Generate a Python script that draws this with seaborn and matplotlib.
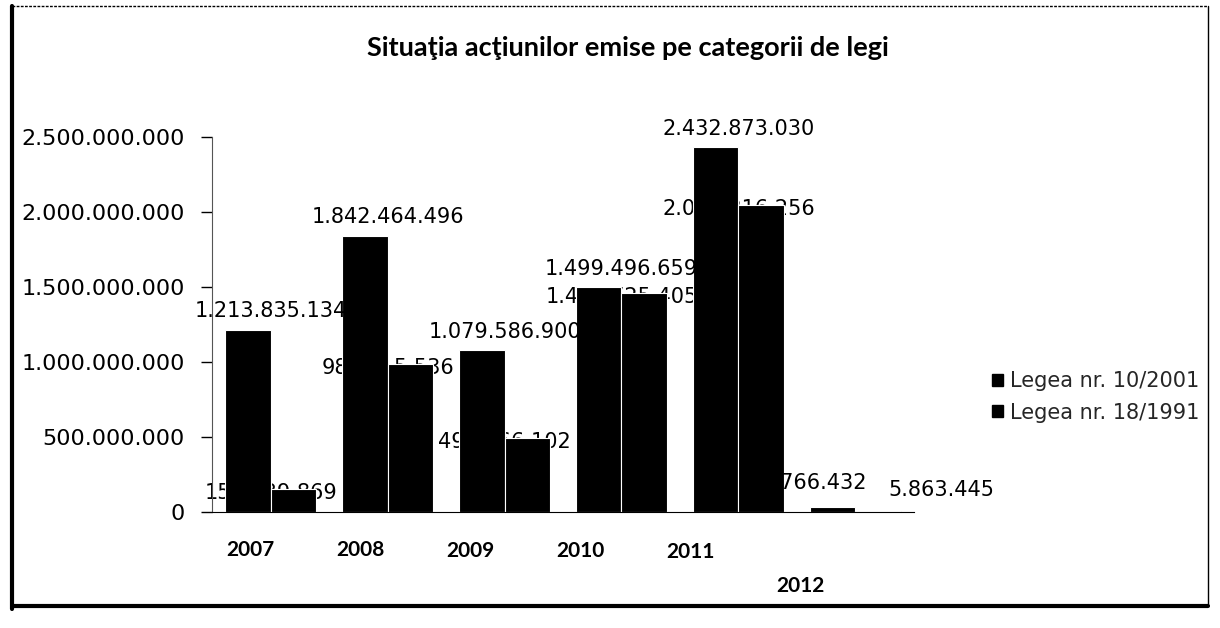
import matplotlib
matplotlib.use("Agg")
import matplotlib.pyplot as plt
import matplotlib.transforms as mtransforms
import seaborn as sns
import pandas as pd
from matplotlib.patches import Patch
from matplotlib.ticker import FuncFormatter

years = ["2007", "2008", "2009", "2010", "2011", "2012"]
series_names = ["Legea nr. 10/2001", "Legea nr. 18/1991"]
legea_10_2001 = [1213835134, 1842464496, 1079586900, 1499496659, 2432873030, 32766432]
legea_18_1991 = [154239869, 986215536, 494866102, 1458725405, 2046316256, 5863445]
y_ticks = [0, 500000000, 1000000000, 1500000000, 2000000000, 2500000000]
title = "Situaţia acţiunilor emise pe categorii de legi"

def fmt(v):
    return f"{int(v):,}".replace(",", ".")

df = pd.DataFrame({
    "An": years * 2,
    "Serie": [series_names[0]] * len(years) + [series_names[1]] * len(years),
    "Valoare": legea_10_2001 + legea_18_1991,
})

sns.set_theme(style="white")
plt.rcParams["font.family"] = ["Lato", "DejaVu Sans"]

fig = plt.figure(figsize=(12.2, 6.28), dpi=100)
ax = fig.add_axes([0.174, 0.185, 0.575, 0.597])

sns.barplot(data=df, x="An", y="Valoare", hue="Serie", palette=["black", "black"],
            width=0.78, edgecolor="white", linewidth=0.8, ax=ax, legend=False)
for p in ax.patches:
    p.set_zorder(2)

ax.set_xlim(-0.5, len(years) - 0.5)
ax.set_ylim(0, 2500000000)
ax.set_yticks(y_ticks)
ax.yaxis.set_major_formatter(FuncFormatter(lambda v, p: fmt(v)))
ax.set_xlabel("")
ax.set_ylabel("")
for s in ["top", "right"]:
    ax.spines[s].set_visible(False)
ax.spines["left"].set_color("#555555")
ax.spines["left"].set_linewidth(0.8)
ax.spines["bottom"].set_color("black")
ax.spines["bottom"].set_linewidth(0.8)
ax.tick_params(axis="y", left=True, length=8, width=1, direction="out", pad=12, colors="black")
ax.tick_params(axis="x", bottom=False, pad=14, colors="black")
for lbl in ax.get_yticklabels():
    lbl.set_fontfamily("DejaVu Sans")
    lbl.set_fontsize(16)
for i, lbl in enumerate(ax.get_xticklabels()):
    lbl.set_fontweight("bold")
    lbl.set_fontsize(15)
    dy = -0.36 if i == len(years) - 1 else -0.005 * i
    shift = mtransforms.ScaledTranslation(-0.2 - 0.07 * i, dy, fig.dpi_scale_trans)
    lbl.set_transform(lbl.get_transform() + shift)

# value labels: series 1 above its bar, series 2 centred on the group and partly hidden behind the bars
n = len(years)
for i in range(n):
    p1 = ax.containers[0][i]
    p2 = ax.containers[1][i]
    cx = (p1.get_x() + p2.get_x() + p2.get_width()) / 2
    if i < n - 1:
        ax.annotate(fmt(legea_10_2001[i]), (cx, legea_10_2001[i]), xytext=(0, 6),
                    textcoords="offset points", ha="center", va="bottom", fontsize=15,
                    family="DejaVu Sans", color="black", zorder=5)
        ax.annotate(fmt(legea_18_1991[i]), (cx, legea_18_1991[i]), xytext=(0, -3),
                    textcoords="offset points", ha="center", va="center", fontsize=15,
                    family="DejaVu Sans", color="black", zorder=1)
    else:
        ax.annotate(fmt(legea_10_2001[i]), (cx, legea_10_2001[i]), xytext=(8, 10),
                    textcoords="offset points", ha="right", va="bottom", fontsize=15,
                    family="DejaVu Sans", color="black", zorder=5)
        ax.annotate(fmt(legea_18_1991[i]), (cx, legea_18_1991[i]), xytext=(24, 8),
                    textcoords="offset points", ha="left", va="bottom", fontsize=15,
                    family="DejaVu Sans", color="black", zorder=5)

fig.text(0.515, 0.924, title, ha="center", va="center", fontsize=19.5, fontweight="bold", color="black")

handles = [Patch(facecolor="black", edgecolor="black", label=n_) for n_ in series_names]
fig.legend(handles=handles, loc="center left", bbox_to_anchor=(0.798, 0.368), frameon=False,
           handlelength=0.5, handleheight=0.5, handletextpad=0.35, labelspacing=0.55,
           prop={"family": "DejaVu Sans", "size": 15})

# outer frame of the chart area
fig.add_artist(plt.Line2D([0.01, 0.01], [0.03, 0.99], transform=fig.transFigure, color="black", lw=3))
fig.add_artist(plt.Line2D([0.01, 0.99], [0.035, 0.035], transform=fig.transFigure, color="black", lw=3))
fig.add_artist(plt.Line2D([0.01, 0.99], [0.99, 0.99], transform=fig.transFigure, color="black", lw=1, ls=(0, (2, 1))))
fig.add_artist(plt.Line2D([0.99, 0.99], [0.035, 0.99], transform=fig.transFigure, color="black", lw=1))

fig.savefig("out.png", dpi=100, facecolor="white")
